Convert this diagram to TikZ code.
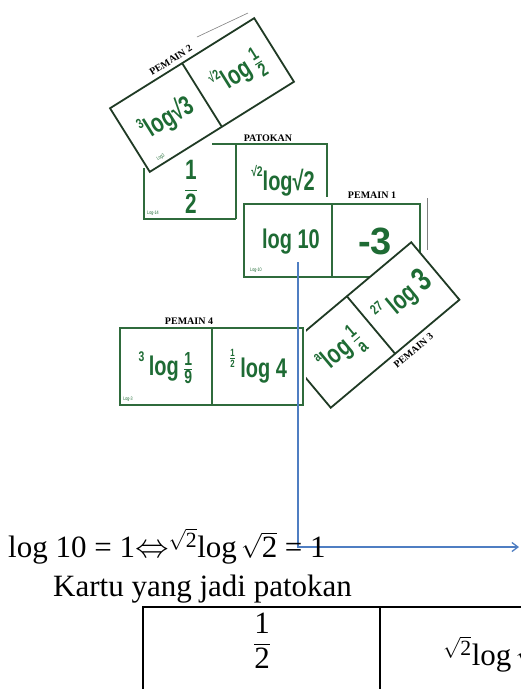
\documentclass[tikz,border=0pt]{standalone}
\usepackage{amsmath}
\usepackage{graphicx}
\usepackage{fontspec}
\setmainfont{Liberation Serif}
\newfontfamily\cardfont[FakeStretch=0.74]{Liberation Sans}
\newfontfamily\cardwide{Liberation Sans}
\newfontfamily\labfont{Liberation Serif}
\usetikzlibrary{arrows.meta}
\definecolor{cardgreen}{HTML}{2F6B3C}
\definecolor{carddark}{HTML}{1F3A24}
\definecolor{txtgreen}{HTML}{1E6B34}
\definecolor{blueline}{HTML}{4F7EC2}
\newcommand\mysup[1]{\raisebox{0.5em}{\fontsize{14}{14}\selectfont #1}}
\newcommand\myfr[2]{$\frac{\text{#1}}{\text{#2}}$}
\newcommand\mysupfr[2]{\raisebox{0.55em}{\fontsize{15}{15}\selectfont$\frac{\text{#1}}{\text{#2}}$}}
\tikzset{
  cardline/.style={draw=cardgreen, line width=1.8pt},
  darkline/.style={draw=carddark, line width=1.8pt},
  cardtxt/.style={text=txtgreen, font=\cardfont\bfseries\fontsize{27}{27}\selectfont, inner sep=0pt},
  lab/.style={font=\labfont\bfseries\fontsize{10}{10}\selectfont, text=black, inner sep=0pt},
  tinytxt/.style={font=\cardfont\fontsize{5}{5}\selectfont, text=txtgreen, inner sep=0pt},
  serif/.style={font=\fontsize{31}{31}\selectfont, inner sep=0pt, text=black},
  blueconn/.style={draw=blueline, line width=1.3pt},
  tabline/.style={draw=black, line width=1.5pt}
}
\begin{document}
\begin{tikzpicture}[x=1pt,y=-1pt]
\useasboundingbox[fill=white] (0,0) rectangle (521,689);

% ---------- PEMAIN 4 ----------
\draw[cardline] (120,328) rectangle (303,405);
\draw[cardline] (212,328) -- (212,405);
\node[cardtxt] (p4a) at (166,368) {\mysup{3}\,log\,\myfr{1}{9}};
\node[cardtxt] (p4b) at (258,366) {\mysupfr{1}{2}\,log 4};
\node[lab] (p4l) at (189,321) {PEMAIN 4};
\node[tinytxt] (p4t) at (128,399) {Log-3};

% ---------- PATOKAN ----------
\draw[cardline] (144,168) -- (144,219) -- (236,219);
\draw[cardline] (236,144) -- (236,219);
\draw[cardline] (212,144) -- (327,144) -- (327,197);
\node[cardtxt, font=\cardfont\bfseries\fontsize{28}{28}\selectfont] (pta) at (191,187) {$\dfrac{\text{1}}{\text{2}}$};
\node[cardtxt] (ptb) at (283,181) {\mysup{√2}log√2};
\node[lab] (ptl) at (268,138) {PATOKAN};
\node[tinytxt] (ptt) at (153,213) {Log-14};

% ---------- PEMAIN 2 ----------
\draw[gray, line width=0.6pt] (197,37) -- (248,13);
\begin{scope}[shift={(202,95)}, rotate=32, transform shape]
  \draw[darkline, fill=white] (-85,-37.5) rectangle (85,37.5);
  \draw[darkline] (0,-37.5) -- (0,37.5);
  \node[cardtxt] (p2a) at (-42,1) {\mysup{3}log√3};
  \node[cardtxt] (p2b) at (42,1) {\mysup{√2}log\,\myfr{1}{2}};
  \node[lab] (p2l) at (-8,-46) {PEMAIN 2};
  \node[tinytxt] (p2t) at (-68,31) {Log3};
\end{scope}

% ---------- PEMAIN 1 ----------
\draw[gray, line width=0.8pt] (427,198) -- (427,250);
\draw[cardline, fill=white] (244,204) rectangle (420,277);
\draw[cardline] (332,204) -- (332,277);
\node[cardtxt] (p1a) at (291,242) {log 10};
\node[cardtxt, font=\cardwide\bfseries\fontsize{38}{38}\selectfont] (p1b) at (375,241) {-3};
\node[lab] (p1l) at (372,195) {PEMAIN 1};
\node[tinytxt] (p1t) at (256,270) {Log-10};

% ---------- PEMAIN 3 ----------
\begin{scope}
  \clip (306,0) rectangle (521,689);
  \begin{scope}[shift={(371,325)}, rotate=40, transform shape]
    \draw[darkline, fill=white] (-84,-37.5) rectangle (84,37.5);
    \draw[darkline] (0,-37.5) -- (0,37.5);
    \node[cardtxt] (p3a) at (-40,1) {\mysup{a}log\,\myfr{1}{a}};
    \node[cardtxt] (p3b) at (42,0) {\mysup{27}\,log {\fontsize{33}{33}\selectfont 3}};
    \node[lab] (p3l) at (16,47) {PEMAIN 3};
  \end{scope}
\end{scope}

% ---------- connector ----------
\coordinate (b0) at (298,262);
\coordinate (b1) at (519,547);
\draw[blueconn, -{Straight Barb[length=6pt,width=9pt]}] (b0) |- (b1);

% ---------- equation and table ----------
\node[serif, anchor=base west] (eq) at (8,557)
  {log 10 = 1\scalebox{1.35}{$\Leftrightarrow$}\textsuperscript{$\sqrt{\text{2}}$}log$\,\sqrt{\text{2}}$ = 1};
\node[serif, anchor=base west] (kartu) at (53,596) {Kartu yang jadi patokan};
\draw[tabline] (143,692) -- (143,607) -- (524,607);
\draw[tabline] (380,607) -- (380,692);
\node[serif] (frac) at (262,641) {$\dfrac{\text{1}}{\text{2}}$};
\node[serif, anchor=base west] (rcell) at (443,665) {\textsuperscript{$\sqrt{\text{2}}$}log$\,\sqrt{\text{2}}$};
\end{tikzpicture}
\end{document}
